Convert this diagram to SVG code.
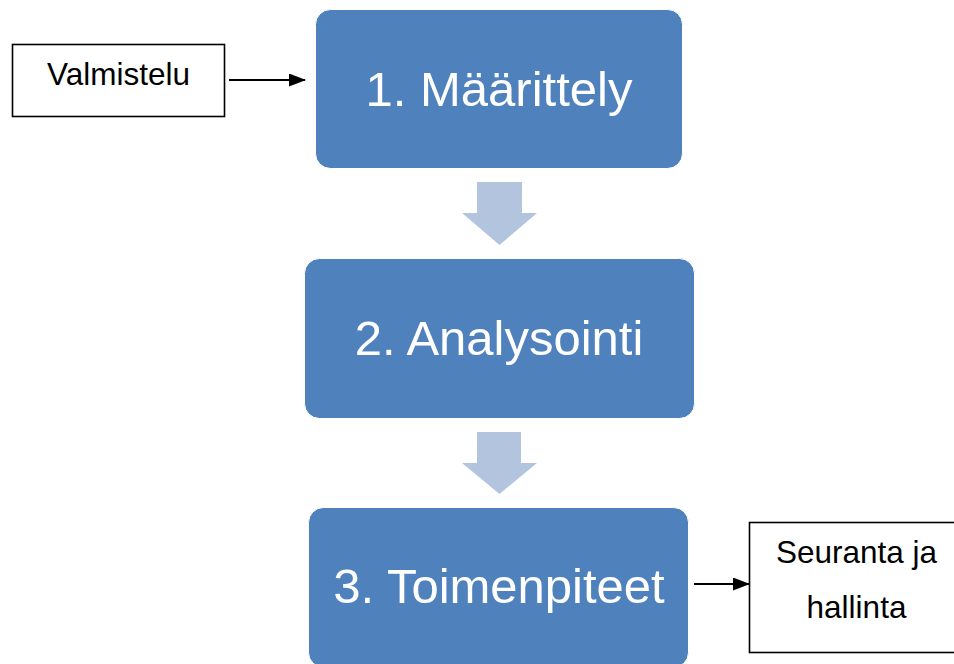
<svg xmlns="http://www.w3.org/2000/svg" width="954" height="664" viewBox="0 0 954 664">
  <style>
    .step { fill: #4F81BD; stroke: #ffffff; stroke-width: 1; }
    .steptext { font-family: "Liberation Sans", Arial, sans-serif; font-size: 49px; fill: #ffffff; text-anchor: middle; }
    .side { fill: #ffffff; stroke: #000000; stroke-width: 1.6; }
    .sidetext { font-family: "Liberation Sans", Arial, sans-serif; font-size: 31.5px; fill: #000000; text-anchor: middle; }
    .block { fill: #B3C4DF; }
    .conn { stroke: #000000; stroke-width: 2; fill: none; }
  </style>
  <defs>
    <marker id="arr" markerWidth="17" markerHeight="13" refX="16" refY="6.5" orient="auto" markerUnits="userSpaceOnUse">
      <path d="M0,0 L17,6.5 L0,13 Z" fill="#000000"/>
    </marker>
  </defs>
  <rect width="954" height="664" fill="#ffffff"/>

  <g id="connectors">
    <path class="block" d="M477,182 H522 V213 H537 L499.5,245 L462,213 H477 Z"/>
    <path class="block" d="M477,432 H521 V463 H537 L499.5,494 L462,463 H477 Z"/>
    <line class="conn" x1="229" y1="80" x2="305" y2="80" marker-end="url(#arr)"/>
    <line class="conn" x1="694" y1="584" x2="749" y2="584" marker-end="url(#arr)"/>
  </g>

  <g id="valmistelu">
    <rect class="side" x="12.5" y="44.5" width="212" height="72"/>
    <text class="sidetext" x="118.5" y="85">Valmistelu</text>
  </g>

  <g id="step1">
    <rect class="step" x="315.5" y="9.5" width="367" height="159" rx="15"/>
    <text class="steptext" x="499" y="106">1. Määrittely</text>
  </g>

  <g id="step2">
    <rect class="step" x="304.5" y="258.5" width="390" height="160" rx="15"/>
    <text class="steptext" x="499" y="355">2. Analysointi</text>
  </g>

  <g id="step3">
    <rect class="step" x="308.5" y="507.5" width="380" height="160" rx="15"/>
    <text class="steptext" x="499" y="603">3. Toimenpiteet</text>
  </g>

  <g id="seuranta">
    <rect class="side" x="749.5" y="522.5" width="220" height="130"/>
    <text class="sidetext" x="856.5" y="563">Seuranta ja</text>
    <text class="sidetext" x="856.5" y="618">hallinta</text>
  </g>
</svg>
